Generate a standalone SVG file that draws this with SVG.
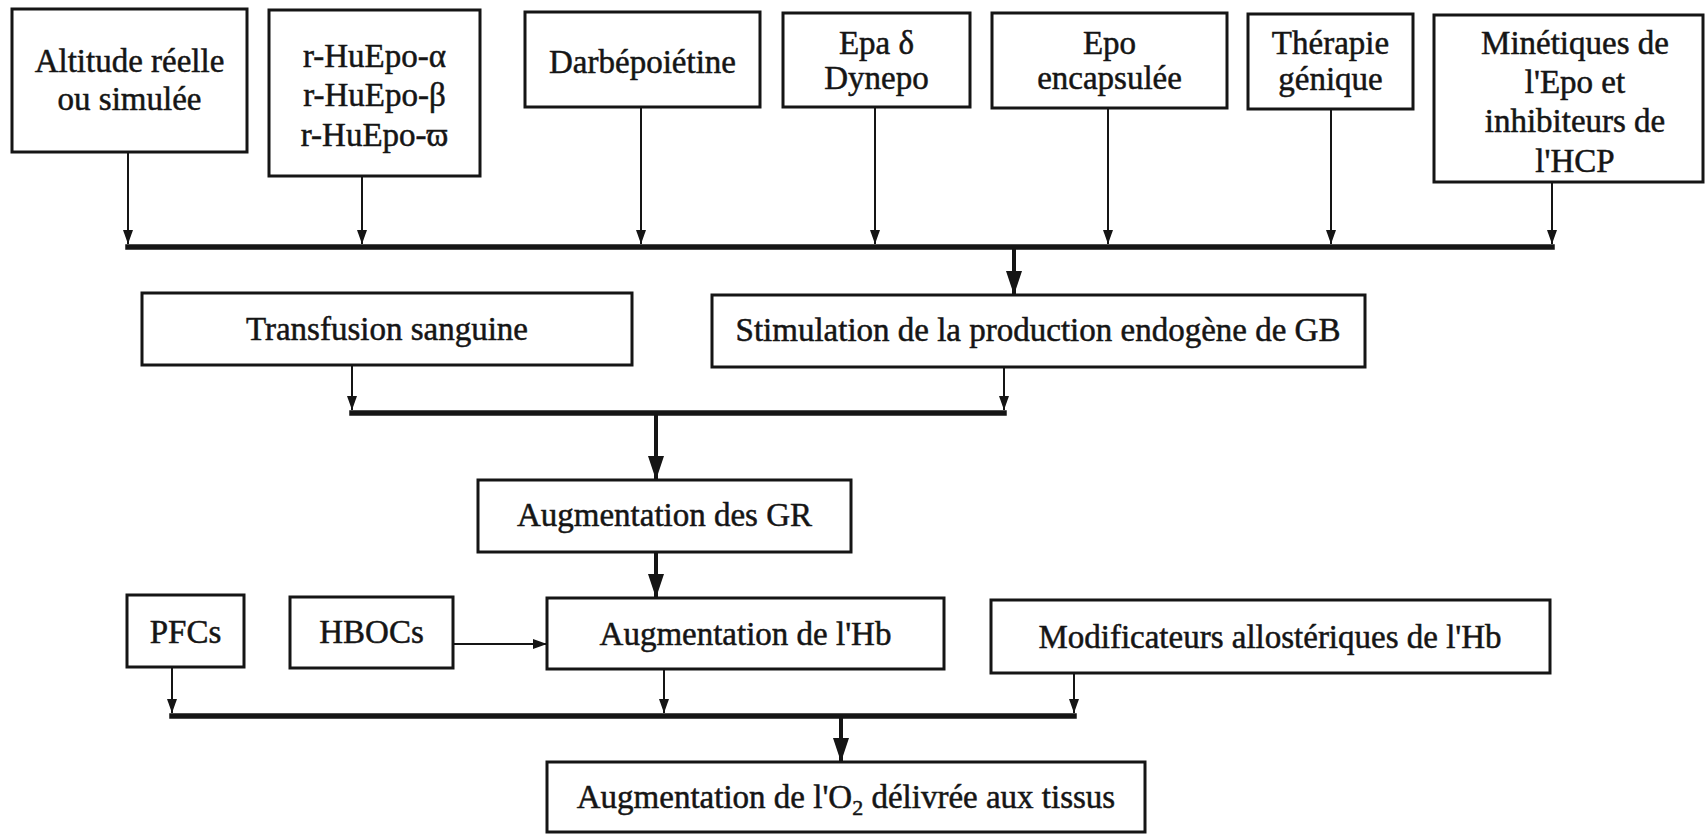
<svg xmlns="http://www.w3.org/2000/svg" width="1706" height="834" viewBox="0 0 1706 834">
<defs>
<style>
.box{fill:#fff;stroke:#151515;stroke-width:3}
.t{font-family:"Liberation Serif","Times New Roman",serif;font-size:33px;fill:#151515;stroke:#151515;stroke-width:0.5;text-anchor:middle}
.thin{stroke:#151515;stroke-width:2;fill:none}
.bus{stroke:#151515;stroke-width:5.5;fill:none;stroke-linecap:square}
.thick{stroke:#151515;stroke-width:4;fill:none}
</style>
<marker id="ah" markerUnits="userSpaceOnUse" viewBox="0 0 14 10" markerWidth="14" markerHeight="10" refX="14" refY="5" orient="auto"><path d="M0,0 L14,5 L0,10 z" fill="#151515"/></marker>
<marker id="ahb" markerUnits="userSpaceOnUse" viewBox="0 0 24 16" markerWidth="24" markerHeight="16" refX="24" refY="8" orient="auto"><path d="M0,0 L24,8 L0,16 z" fill="#151515"/></marker>
</defs>
<rect width="1706" height="834" fill="#fff"/>

<g id="connectors">
<line class="thin" x1="128" y1="152" x2="128" y2="244" marker-end="url(#ah)"/>
<line class="thin" x1="362" y1="176" x2="362" y2="244" marker-end="url(#ah)"/>
<line class="thin" x1="641" y1="107" x2="641" y2="244" marker-end="url(#ah)"/>
<line class="thin" x1="875" y1="107" x2="875" y2="244" marker-end="url(#ah)"/>
<line class="thin" x1="1108" y1="108" x2="1108" y2="244" marker-end="url(#ah)"/>
<line class="thin" x1="1331" y1="109" x2="1331" y2="244" marker-end="url(#ah)"/>
<line class="thin" x1="1552" y1="182" x2="1552" y2="244" marker-end="url(#ah)"/>
<line class="bus" x1="128" y1="247" x2="1552" y2="247"/>
<line class="thick" x1="1014" y1="249" x2="1014" y2="295" marker-end="url(#ahb)"/>

<line class="thin" x1="352" y1="365" x2="352" y2="410" marker-end="url(#ah)"/>
<line class="thin" x1="1004" y1="367" x2="1004" y2="410" marker-end="url(#ah)"/>
<line class="bus" x1="352" y1="413" x2="1004" y2="413"/>
<line class="thick" x1="656" y1="415" x2="656" y2="480" marker-end="url(#ahb)"/>

<line class="thick" x1="656" y1="552" x2="656" y2="598" marker-end="url(#ahb)"/>
<line class="thin" x1="453" y1="644" x2="547" y2="644" marker-end="url(#ah)"/>

<line class="thin" x1="172" y1="667" x2="172" y2="713" marker-end="url(#ah)"/>
<line class="thin" x1="664" y1="669" x2="664" y2="713" marker-end="url(#ah)"/>
<line class="thin" x1="1074" y1="673" x2="1074" y2="713" marker-end="url(#ah)"/>
<line class="bus" x1="172" y1="716" x2="1074" y2="716"/>
<line class="thick" x1="841" y1="718" x2="841" y2="762" marker-end="url(#ahb)"/>
</g>

<g id="n-altitude"><rect class="box" x="12" y="9" width="235" height="143"/>
<text class="t" x="129.5" y="72">Altitude réelle</text><text class="t" x="129.5" y="110">ou simulée</text></g>

<g id="n-huepo"><rect class="box" x="269" y="10" width="211" height="166"/>
<text class="t" x="374.5" y="67">r-HuEpo-α</text><text class="t" x="374.5" y="106">r-HuEpo-β</text><text class="t" x="374.5" y="146">r-HuEpo-ϖ</text></g>

<g id="n-darbe"><rect class="box" x="525" y="12" width="235" height="95"/>
<text class="t" x="642.5" y="73">Darbépoiétine</text></g>

<g id="n-epa"><rect class="box" x="783" y="13" width="187" height="94"/>
<text class="t" x="876.5" y="54">Epa δ</text><text class="t" x="876.5" y="89">Dynepo</text></g>

<g id="n-epo-enc"><rect class="box" x="992" y="13" width="235" height="95"/>
<text class="t" x="1109.5" y="54">Epo</text><text class="t" x="1109.5" y="89">encapsulée</text></g>

<g id="n-therapie"><rect class="box" x="1248" y="14" width="165" height="95"/>
<text class="t" x="1330.5" y="54">Thérapie</text><text class="t" x="1330.5" y="90">génique</text></g>

<g id="n-minetiques"><rect class="box" x="1434" y="15" width="269" height="167"/>
<text class="t" x="1575" y="54">Minétiques de</text><text class="t" x="1575" y="93">l'Epo et</text><text class="t" x="1575" y="132">inhibiteurs de</text><text class="t" x="1575" y="172">l'HCP</text></g>

<g id="n-transfusion"><rect class="box" x="142" y="293" width="490" height="72"/>
<text class="t" x="387" y="340">Transfusion sanguine</text></g>

<g id="n-stimulation"><rect class="box" x="712" y="295" width="653" height="72"/>
<text class="t" x="1038" y="341">Stimulation de la production endogène de GB</text></g>

<g id="n-gr"><rect class="box" x="478" y="480" width="373" height="72"/>
<text class="t" x="664.5" y="526">Augmentation des GR</text></g>

<g id="n-pfcs"><rect class="box" x="127" y="595" width="117" height="72"/>
<text class="t" x="185.5" y="643">PFCs</text></g>

<g id="n-hbocs"><rect class="box" x="290" y="597" width="163" height="71"/>
<text class="t" x="371.5" y="643">HBOCs</text></g>

<g id="n-hb"><rect class="box" x="547" y="598" width="397" height="71"/>
<text class="t" x="745.5" y="645">Augmentation de l'Hb</text></g>

<g id="n-modif"><rect class="box" x="991" y="600" width="559" height="73"/>
<text class="t" x="1270" y="648">Modificateurs allostériques de l'Hb</text></g>

<g id="n-o2"><rect class="box" x="547" y="762" width="598" height="70"/>
<text class="t" x="846" y="808">Augmentation de l'O<tspan font-size="22" dy="7">2</tspan><tspan dy="-7"> délivrée aux tissus</tspan></text></g>
</svg>
